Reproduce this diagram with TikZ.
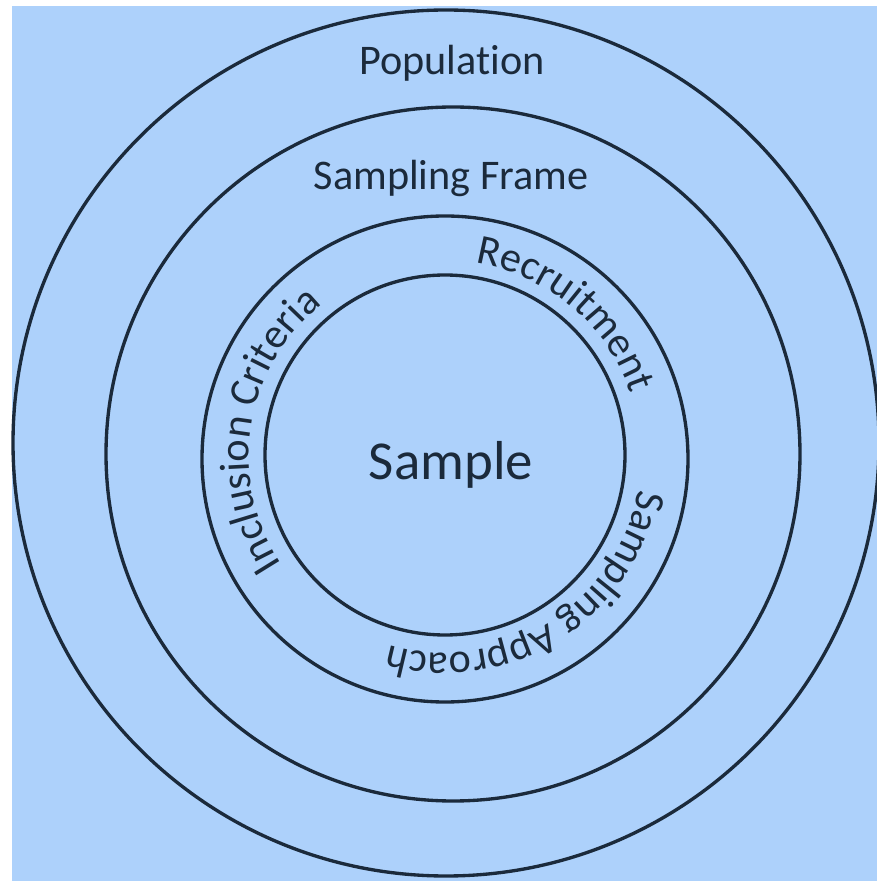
\documentclass[tikz,border=0pt]{standalone}
\usepackage{fontspec}
\setmainfont{Carlito}[Ligatures=CommonOff]
\usetikzlibrary{decorations.text}
\definecolor{paleblue}{HTML}{ADD1FB}
\definecolor{inkblue}{HTML}{1B2A3B}
\tikzset{every picture/.style={line width=0.8pt}}
\tikzstyle{ring}=[draw=inkblue,line width=0.95pt]
\tikzstyle{lbl}=[text=inkblue,inner sep=0pt,anchor=base]
\newcommand{\arcfont}{\color{inkblue}\fontsize{12}{14}\selectfont}

\begin{document}
\begin{tikzpicture}[x=0.01cm,y=0.01cm]
\useasboundingbox (0,0) rectangle (877,881);
\fill[paleblue] (12,0) rectangle (877,875);
% rings, outermost first
\draw[ring] (446,438) circle (433);
\draw[ring] (453,427) circle (347);
\draw[ring] (445,422) circle (243);
\draw[ring] (445,426) circle (180);
\coordinate (O) at (445,424);
\node[lbl,font=\fontsize{12}{14}\selectfont] (Pop) at (452,806) {Population};
\node[lbl,font=\fontsize{12}{14}\selectfont] (Frame) at (451,691) {Sampling Frame};
\node[lbl,font=\fontsize{15.6}{18}\selectfont] (Samp) at (451,401) {Sample};
% labels bent round the third ring, read clockwise
\path[decorate,decoration={text along path,text align=center,
  text={|\arcfont|Inclusion Criteria}}]
  (O) ++(231:196) arc[start angle=231,end angle=111,radius=196];
\path[decorate,decoration={text along path,text align=center,
  text={|\arcfont|Recruitment}}]
  (O) ++(100:196) arc[start angle=100,end angle=0,radius=196];
\path[decorate,decoration={text along path,text align=center,
  text={|\arcfont|Sampling Approach}}]
  (O) ++(7:196) arc[start angle=7,end angle=-123,radius=196];
\end{tikzpicture}
\end{document}
